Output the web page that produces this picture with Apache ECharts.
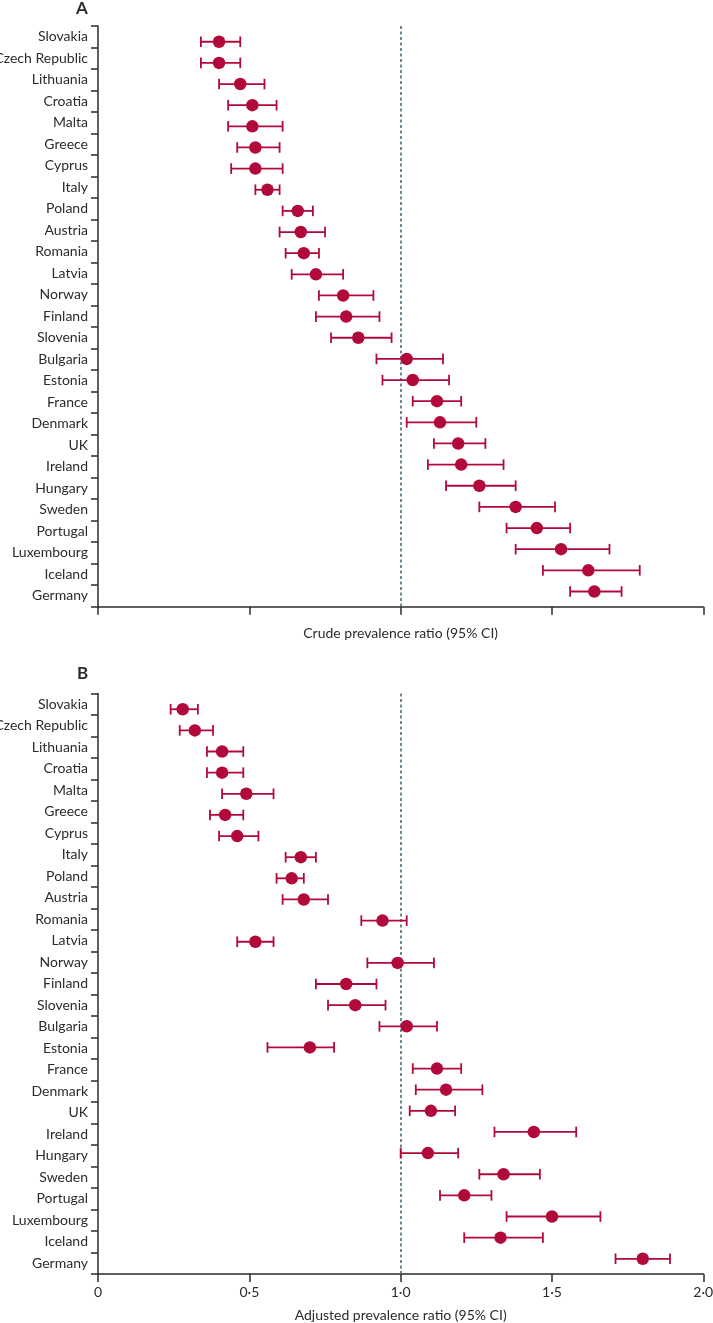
<!DOCTYPE html>
<html>
<head>
<meta charset="utf-8">
<script src="https://cdn.jsdelivr.net/npm/echarts@6/dist/echarts.min.js"></script>
<style>
html,body{margin:0;padding:0;background:#fff;}
#chart{width:713px;height:1323px;}
</style>
</head>
<body>
<div id="chart"></div>
<script>
// ---- data ----
var countries = ['Slovakia','Czech Republic','Lithuania','Croatia','Malta','Greece','Cyprus','Italy','Poland','Austria','Romania','Latvia','Norway','Finland','Slovenia','Bulgaria','Estonia','France','Denmark','UK','Ireland','Hungary','Sweden','Portugal','Luxembourg','Iceland','Germany'];

var crudePR = [0.40,0.40,0.47,0.51,0.51,0.52,0.52,0.56,0.66,0.67,0.68,0.72,0.81,0.82,0.86,1.02,1.04,1.12,1.13,1.19,1.20,1.26,1.38,1.45,1.53,1.62,1.64];
var crudeLo = [0.34,0.34,0.40,0.43,0.43,0.46,0.44,0.52,0.61,0.60,0.62,0.64,0.73,0.72,0.77,0.92,0.94,1.04,1.02,1.11,1.09,1.15,1.26,1.35,1.38,1.47,1.56];
var crudeHi = [0.47,0.47,0.55,0.59,0.61,0.60,0.61,0.60,0.71,0.75,0.73,0.81,0.91,0.93,0.97,1.14,1.16,1.20,1.25,1.28,1.34,1.38,1.51,1.56,1.69,1.79,1.73];

var adjPR = [0.28,0.32,0.41,0.41,0.49,0.42,0.46,0.67,0.64,0.68,0.94,0.52,0.99,0.82,0.85,1.02,0.70,1.12,1.15,1.10,1.44,1.09,1.34,1.21,1.50,1.33,1.80];
var adjLo = [0.24,0.27,0.36,0.36,0.41,0.37,0.40,0.62,0.59,0.61,0.87,0.46,0.89,0.72,0.76,0.93,0.56,1.04,1.05,1.03,1.31,1.00,1.26,1.13,1.35,1.21,1.71];
var adjHi = [0.33,0.38,0.48,0.48,0.58,0.48,0.53,0.72,0.68,0.76,1.02,0.58,1.11,0.92,0.95,1.12,0.78,1.20,1.27,1.18,1.58,1.19,1.46,1.30,1.66,1.47,1.89];

var xTickLabels = ['0','0·5','1·0','1·5','2·0'];
var titleA = 'Crude prevalence ratio (95% CI)';
var titleB = 'Adjusted prevalence ratio (95% CI)';
</script>
<script>
var RED = '#b10a3a';
var INK = '#2b2b2b';
var FONT = 'Lato';

function errData(lo, hi){ return lo.map(function(v,i){ return [i, v, hi[i]]; }); }
function ptData(pr){ return pr.map(function(v,i){ return [v, i]; }); }

function renderErr(params, api){
  var idx = api.value(0), lo = api.value(1), hi = api.value(2);
  var a = api.coord([lo, idx]), b = api.coord([hi, idx]);
  var h = 5.3;
  var st = {stroke: RED, lineWidth: 1.8};
  return {type:'group', children:[
    {type:'line', shape:{x1:a[0],y1:a[1],x2:b[0],y2:b[1]}, style:st},
    {type:'line', shape:{x1:a[0],y1:a[1]-h,x2:a[0],y2:a[1]+h}, style:st},
    {type:'line', shape:{x1:b[0],y1:b[1]-h,x2:b[0],y2:b[1]+h}, style:st}
  ]};
}

function xAxisCfg(gridIndex, showLabels, name, gap){
  return {
    type:'value', gridIndex:gridIndex, min:0, max:2, interval:0.5, position:'bottom',
    axisLine:{show:true, onZero:false, lineStyle:{color:INK, width:1.5}},
    axisTick:{show:true, inside:false, length:8, lineStyle:{color:INK, width:1.5}},
    splitLine:{show:false},
    axisLabel:{show:showLabels, color:INK, fontFamily:FONT, fontSize:14, margin:11,
      formatter:function(v){ return xTickLabels[Math.round(v/0.5)]; }},
    name:name, nameLocation:'middle', nameGap:gap,
    nameTextStyle:{color:INK, fontFamily:FONT, fontSize:14}
  };
}
function yCatCfg(gridIndex){
  return {
    type:'category', gridIndex:gridIndex, data:countries, inverse:true, boundaryGap:true,
    axisLine:{show:true, onZero:false, lineStyle:{color:INK, width:1.5}},
    axisTick:{show:true, inside:false, interval:0, length:7, lineStyle:{color:INK, width:1.5}},
    axisLabel:{color:INK, fontFamily:FONT, fontSize:14, margin:10, interval:0},
    splitLine:{show:false}
  };
}
function yValCfg(gridIndex){
  return {type:'value', gridIndex:gridIndex, show:false, inverse:true, min:-0.745, max:26.72,
    axisLine:{onZero:false}, splitLine:{show:false}};
}
function panelSeries(xi, yi, lo, hi, pr){
  return [
    {type:'custom', xAxisIndex:xi, yAxisIndex:yi, data:errData(lo,hi), renderItem:renderErr,
     encode:{x:[1,2], y:0}, silent:true, z:2,
     markLine:{silent:true, symbol:['none','none'], label:{show:false},
       lineStyle:{color:'#4b6b79', type:[3,2.5], width:1.6}, data:[{xAxis:1}], z:1}},
    {type:'scatter', xAxisIndex:xi, yAxisIndex:yi, data:ptData(pr), symbol:'circle', symbolSize:12.5,
     itemStyle:{color:RED, opacity:1}, silent:true, z:3}
  ];
}

var chart = echarts.init(document.getElementById('chart'), null, {renderer:'canvas'});
chart.setOption({
  animation:false,
  backgroundColor:'#fff',
  grid:[
    {left:98, top:26, width:605.3, height:580.7, containLabel:false, outerBoundsMode:'none'},
    {left:98, top:693.5, width:605.3, height:580.5, containLabel:false, outerBoundsMode:'none'}
  ],
  xAxis:[ xAxisCfg(0,false,titleA,20), xAxisCfg(1,true,titleB,34) ],
  yAxis:[ yCatCfg(0), yValCfg(0), yCatCfg(1), yValCfg(1) ],
  series: panelSeries(0,1,crudeLo,crudeHi,crudePR).concat(panelSeries(1,3,adjLo,adjHi,adjPR)),
  graphic:[
    {type:'text', left:76, top:0, style:{text:'A', font:'bold 17px Lato', fill:INK}},
    {type:'text', left:77, top:665, style:{text:'B', font:'bold 17px Lato', fill:INK}}
  ]
});
</script>
</body>
</html>
